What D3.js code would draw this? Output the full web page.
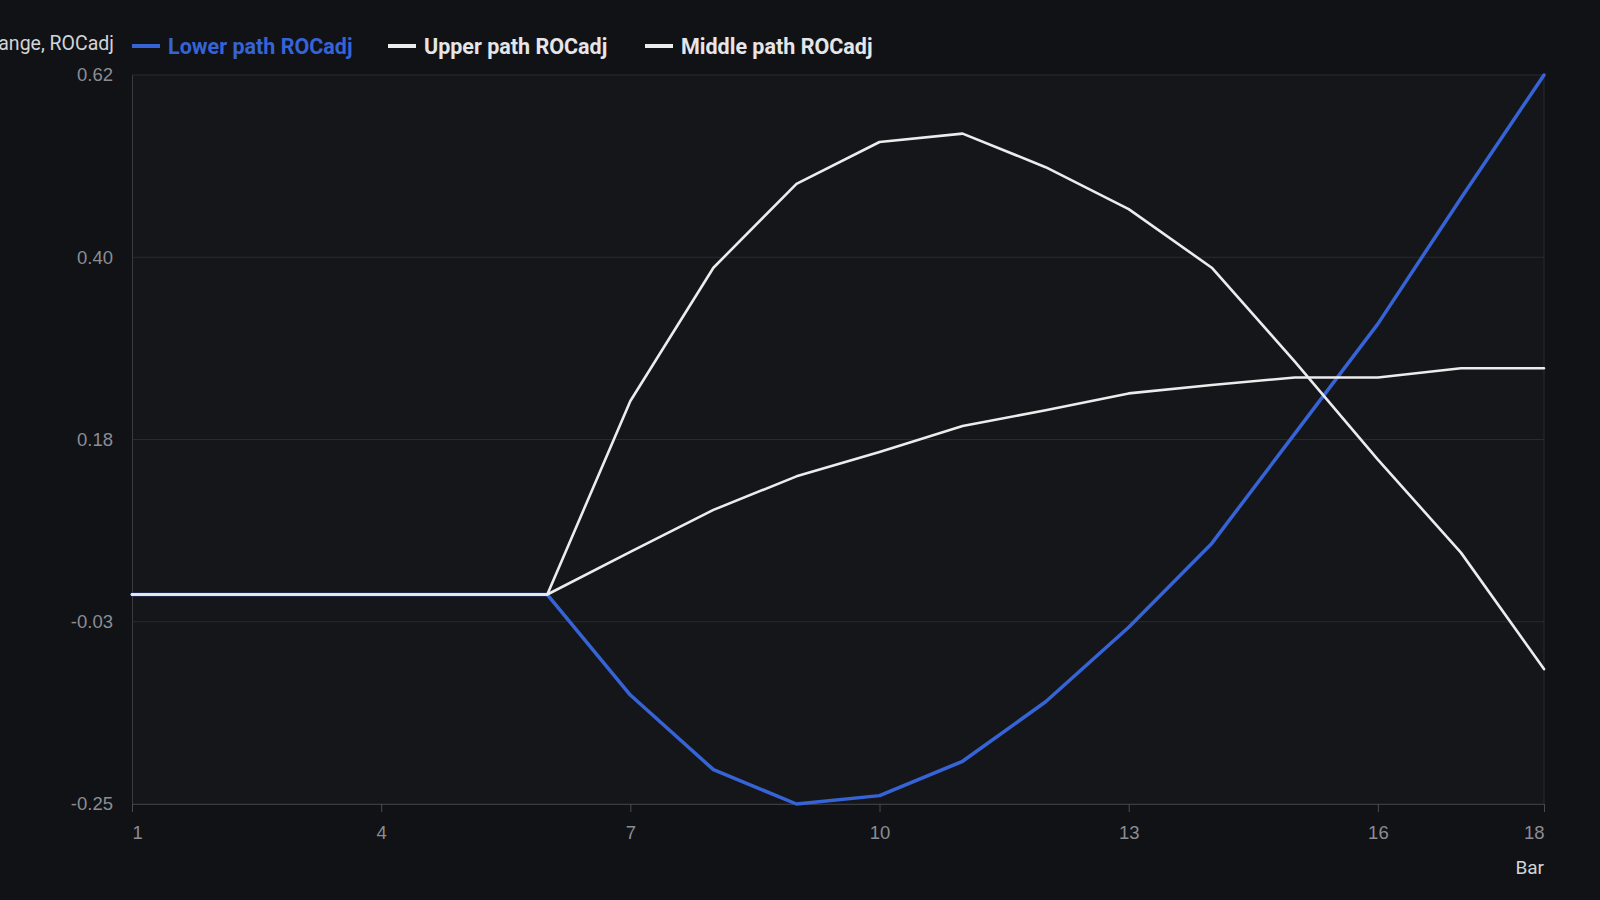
<!DOCTYPE html>
<html>
<head>
<meta charset="utf-8">
<script src="https://cdn.jsdelivr.net/npm/d3@7"></script>
<style>
  html, body { margin: 0; padding: 0; background: #111216; }
  svg { display: block; font-family: Roboto, "Liberation Sans", Arial, sans-serif; }
</style>
</head>
<body>
<div id="chart"></div>
<script>
// bars along the x axis
const bars = [1, 2, 3, 4, 5, 6, 7, 8, 9, 10, 11, 12, 13, 14, 15, 16, 17, 18];

// ROCadj per path
const lowerPath  = [0, 0, 0, 0, 0, 0, -0.12, -0.209, -0.25, -0.24, -0.199, -0.128, -0.039, 0.061, 0.192, 0.323, 0.473, 0.62];
const upperPath  = [0, 0, 0, 0, 0, 0, 0.231, 0.39, 0.49, 0.54, 0.55, 0.51, 0.46, 0.39, 0.278, 0.161, 0.05, -0.089];
const middlePath = [0, 0, 0, 0, 0, 0, 0.051, 0.101, 0.141, 0.17, 0.201, 0.22, 0.24, 0.25, 0.259, 0.259, 0.27, 0.27];

const seriesNames = ["Lower path ROCadj", "Upper path ROCadj", "Middle path ROCadj"];
const seriesColors = ["#3664d6", "#ececec", "#ececec"];

const xTicks = [1, 4, 7, 10, 13, 16, 18];
const yTicks = [-0.25, -0.0325, 0.185, 0.4025, 0.62];

const W = 1600, H = 900;
const margin = {top: 75, right: 56, bottom: 96, left: 132};
const width = W - margin.left - margin.right;
const height = H - margin.top - margin.bottom;

const svg = d3.select("#chart").append("svg")
  .attr("width", W)
  .attr("height", H);

svg.append("rect")
  .attr("width", W).attr("height", H)
  .attr("fill", "#111216");

const g = svg.append("g")
  .attr("transform", `translate(${margin.left},${margin.top})`);

let x = d3.scaleLinear().domain([1, 18]).range([0, width]);
let y = d3.scaleLinear().domain([-0.25, 0.62]).range([height, 0]);

// plot background
g.append("rect")
  .attr("width", width).attr("height", height)
  .attr("fill", "#15161a");

// horizontal grid
g.selectAll("line.grid")
  .data(yTicks)
  .enter().append("line")
  .attr("class", "grid")
  .attr("x1", 0).attr("x2", width)
  .attr("y1", d => y(d)).attr("y2", d => y(d))
  .attr("stroke", "#2a2b30")
  .attr("stroke-width", 1);

// right border
g.append("line")
  .attr("x1", width).attr("x2", width)
  .attr("y1", 0).attr("y2", height)
  .attr("stroke", "#2a2b30");

// y axis (plain hyphen for negatives, like the original)
const fmt = d => d3.format(".2f")(d).replace("−", "-");
const yAxis = g.append("g")
  .call(d3.axisLeft(y).tickValues(yTicks).tickSize(0).tickPadding(19).tickFormat(fmt));
yAxis.select(".domain").attr("stroke", "#3a3b40");
yAxis.selectAll("text")
  .attr("fill", "#8b8d93")
  .style("font-size", "18.5px");

// x axis
const xAxis = g.append("g")
  .attr("transform", `translate(0,${height})`)
  .call(d3.axisBottom(x).tickValues(xTicks).tickSize(8).tickPadding(14).tickFormat(d3.format("d")));
xAxis.select(".domain").attr("stroke", "#3a3b40");
xAxis.selectAll(".tick line").attr("stroke", "#4a4b50");
xAxis.selectAll("text")
  .attr("fill", "#8b8d93")
  .style("font-size", "18.5px")
  .attr("text-anchor", d => d === 1 ? "start" : (d === 18 ? "end" : "middle"));

// axis titles
svg.append("text")
  .attr("x", W - margin.right)
  .attr("y", margin.top + height + 70)
  .attr("text-anchor", "end")
  .attr("fill", "#d4d4d6")
  .style("font-size", "19px")
  .text("Bar");

svg.append("text")
  .attr("x", 114)
  .attr("y", 50)
  .attr("text-anchor", "end")
  .attr("fill", "#d4d4d6")
  .style("font-size", "19.5px")
  .text("Change, ROCadj");

// lines
const allSeries = [lowerPath, upperPath, middlePath];
const line = d3.line()
  .x((d, i) => x(bars[i]))
  .y(d => y(d));

g.selectAll("path.series")
  .data(allSeries)
  .enter().append("path")
  .attr("class", "series")
  .attr("d", line)
  .attr("fill", "none")
  .attr("stroke", (d, i) => seriesColors[i])
  .attr("stroke-width", (d, i) => i === 0 ? 3.5 : 2.6)
  .attr("stroke-linejoin", "round")
  .attr("stroke-linecap", "round");

// legend
const legendX = [132, 388, 645];
const legend = svg.selectAll("g.legend")
  .data(seriesNames)
  .enter().append("g")
  .attr("class", "legend")
  .attr("transform", (d, i) => `translate(${legendX[i]},46)`);

legend.append("line")
  .attr("x1", 0).attr("x2", 28)
  .attr("stroke", (d, i) => seriesColors[i])
  .attr("stroke-width", 4);

legend.append("text")
  .attr("x", 36)
  .attr("dy", "0.35em")
  .attr("fill", (d, i) => i === 0 ? "#3664d6" : "#e6e6e8")
  .style("font-size", "21.5px")
  .style("font-weight", "bold")
  .text(d => d);
</script>
</body>
</html>
